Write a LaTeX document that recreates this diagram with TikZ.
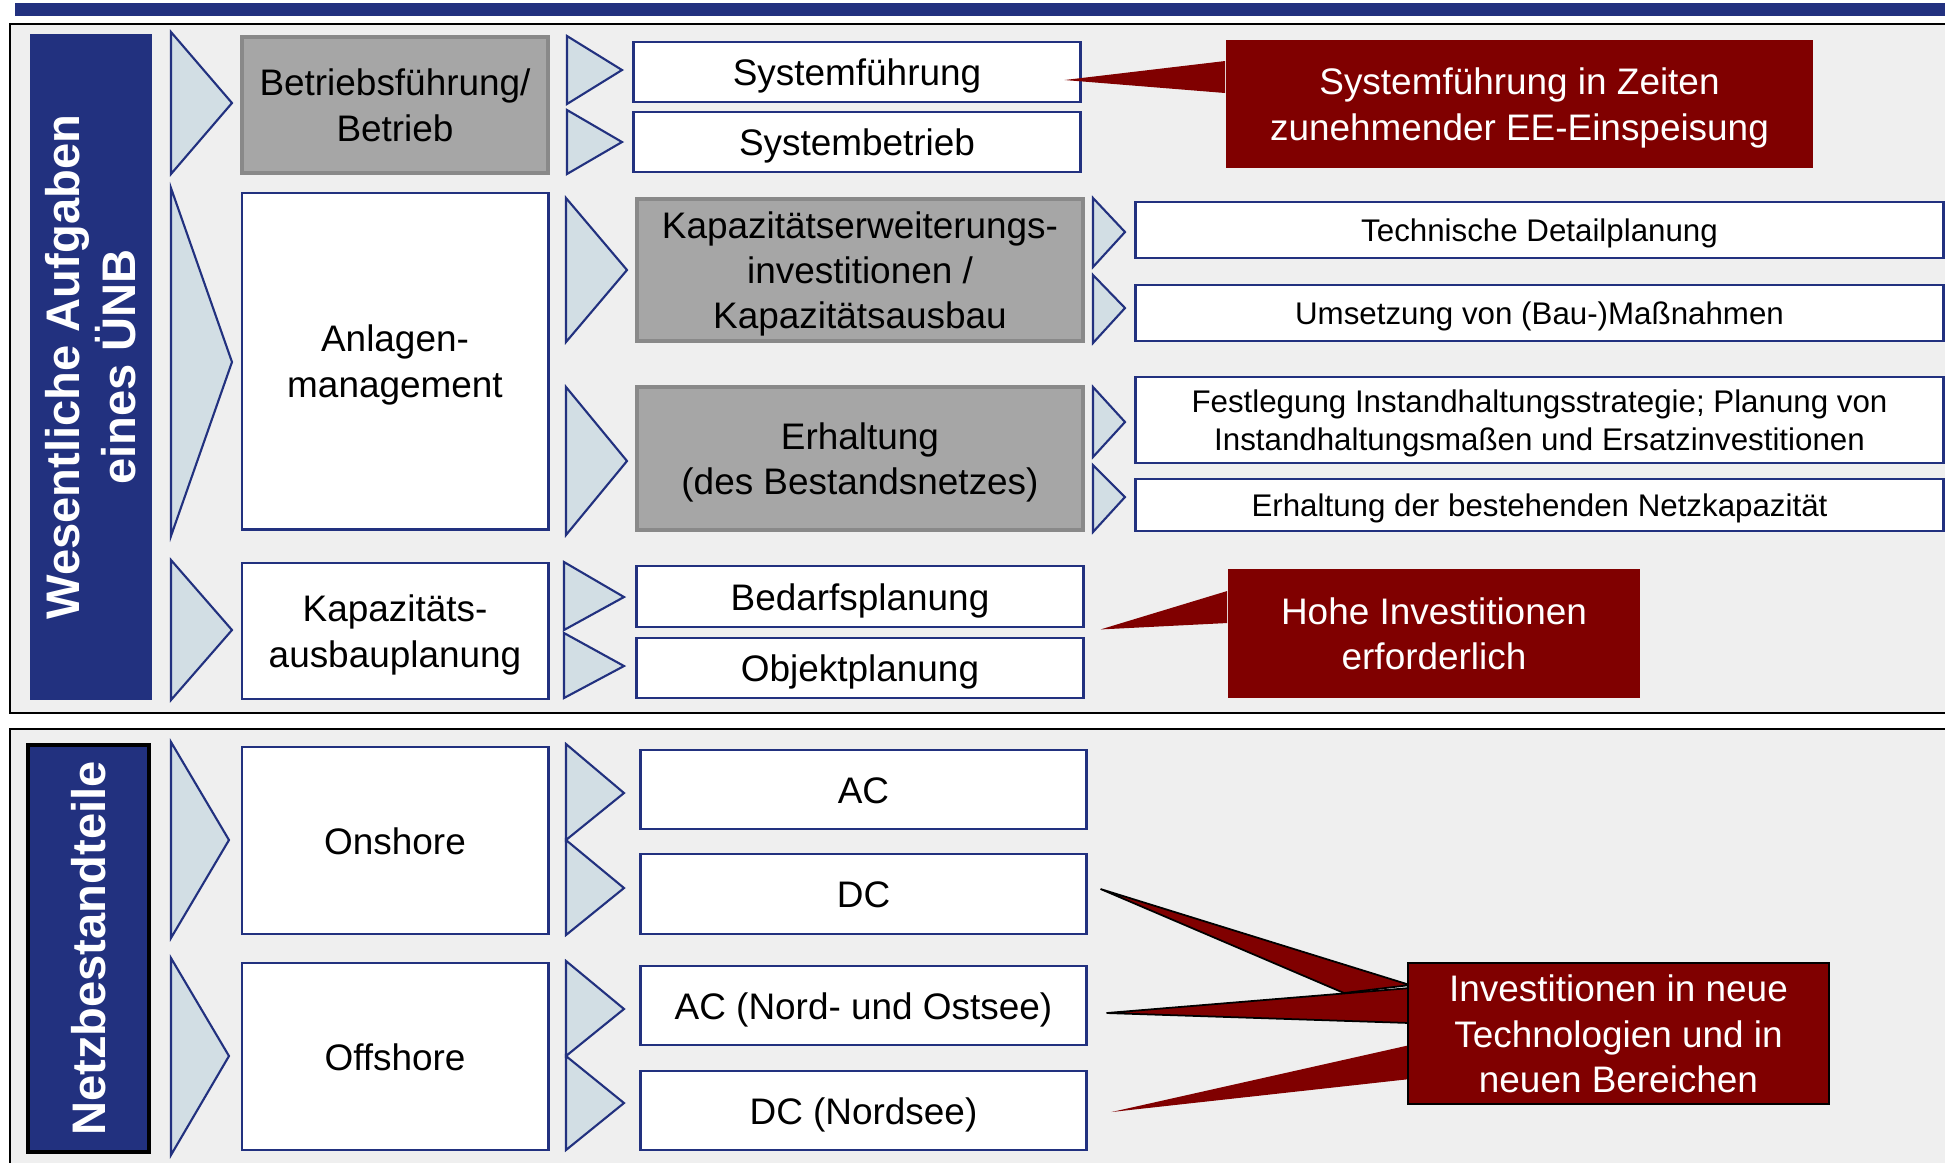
\documentclass[tikz,border=0pt]{standalone}
\usepackage{fontspec}
\setmainfont{Liberation Sans}
\usetikzlibrary{calc}
\definecolor{uebblue}{RGB}{34,49,127}
\definecolor{chevfill}{RGB}{210,222,228}
\definecolor{boxgray}{RGB}{166,166,166}
\definecolor{linegray}{RGB}{137,137,137}
\definecolor{callred}{RGB}{128,0,0}
\definecolor{framebg}{RGB}{239,239,239}
\newcommand{\tstrut}{\rule{0pt}{0.94em}}
\tikzstyle{frame} = [draw=black, fill=framebg, line width=0.6pt]
\tikzstyle{chev} = [draw=uebblue, fill=chevfill, line width=0.6pt]
\tikzstyle{lines} = [execute at begin node={\tstrut}, execute at end node={\rule[-0.21em]{0pt}{0.21em}}]
\tikzstyle{box} = [draw=uebblue, fill=white, line width=0.8pt, inner sep=0pt, align=center, lines, font=\fontsize{10.5}{12.8}\selectfont]
\tikzstyle{graybox} = [box, draw=linegray, fill=boxgray, line width=1pt]
\tikzstyle{smallbox} = [box, font=\fontsize{8.9}{10.8}\selectfont]
\tikzstyle{callout} = [fill=callred, text=white, inner sep=0pt, align=center, lines, font=\fontsize{10.5}{12.8}\selectfont]
\tikzstyle{pointer} = [fill=callred]
\tikzstyle{titlebar} = [fill=uebblue, text=white, rotate=90, inner sep=0pt, align=center, font=\bfseries\fontsize{13.4}{15.9}\selectfont]

\begin{document}
\begin{tikzpicture}[x=0.01cm, y=-0.01cm]
    \useasboundingbox (0,0) rectangle (1945,1162);
    \clip (0,0) rectangle (1945,1162);
    \fill[white] (0,0) rectangle (1945,1162);
    \fill[uebblue] (15,3) rectangle (1960,16);
    \draw[frame] (10,24) rectangle (1960,713);
    \draw[frame] (10,729) rectangle (1960,1180);

    % left labels
    \node[titlebar, minimum width=6.66cm, minimum height=1.22cm] (aufgaben) at (91,367) {Wesentliche Aufgaben\\eines ÜNB};
    \node[titlebar, draw=black, line width=1pt, minimum width=4.07cm, minimum height=1.21cm] (netz) at (88.5,948.5) {Netzbestandteile};

    % chevrons
    \draw[chev] (171,32) -- (232,103) -- (171,174) -- cycle;
    \draw[chev] (171,188) -- (232,362) -- (171,536) -- cycle;
    \draw[chev] (171,560) -- (232,630) -- (171,700) -- cycle;
    \draw[chev] (171,742) -- (229,840) -- (171,938) -- cycle;
    \draw[chev] (171,958) -- (229,1056) -- (171,1155) -- cycle;
    \draw[chev] (567,36) -- (622,70) -- (567,104) -- cycle;
    \draw[chev] (567,110) -- (622,142) -- (567,174) -- cycle;
    \draw[chev] (566,198) -- (627,270) -- (566,342) -- cycle;
    \draw[chev] (566,387) -- (627,461) -- (566,535) -- cycle;
    \draw[chev] (564,562) -- (624,597) -- (564,630) -- cycle;
    \draw[chev] (564,633) -- (624,666) -- (564,698) -- cycle;
    \draw[chev] (566,744) -- (624,793) -- (566,840) -- cycle;
    \draw[chev] (566,840) -- (624,888) -- (566,935) -- cycle;
    \draw[chev] (566,961) -- (624,1009) -- (566,1056) -- cycle;
    \draw[chev] (566,1056) -- (624,1103) -- (566,1150) -- cycle;
    \draw[chev] (1093,198) -- (1125,232) -- (1093,267) -- cycle;
    \draw[chev] (1093,275) -- (1125,308) -- (1093,343) -- cycle;
    \draw[chev] (1093,387) -- (1125,422) -- (1093,457) -- cycle;
    \draw[chev] (1093,465) -- (1125,497) -- (1093,532) -- cycle;

    % second column
    \node[graybox, minimum width=3.06cm, minimum height=1.36cm] (betrieb) at (395,105) {\tstrut Betriebsführung/\\Betrieb};
    \node[box, minimum width=3.06cm, minimum height=3.36cm] (anlagen) at (395,361) {\tstrut Anlagen-\\management};
    \node[box, minimum width=3.06cm, minimum height=1.36cm] (kapplan) at (395,631) {\tstrut Kapazitäts-\\ausbauplanung};
    \node[box, minimum width=3.06cm, minimum height=1.87cm] (onshore) at (395,840.5) {Onshore};
    \node[box, minimum width=3.06cm, minimum height=1.87cm] (offshore) at (395,1056.5) {Offshore};

    % third column
    \node[box, minimum width=4.46cm, minimum height=0.60cm] (sysf) at (857,72) {Systemführung};
    \node[box, minimum width=4.46cm, minimum height=0.60cm] (sysb) at (857,142) {Systembetrieb};
    \node[graybox, minimum width=4.46cm, minimum height=1.42cm] (kaperw) at (860,270) {\tstrut Kapazitätserweiterungs-\\investitionen /\\Kapazitätsausbau};
    \node[graybox, minimum width=4.46cm, minimum height=1.43cm] (erhalt) at (860,458.5) {\tstrut Erhaltung\\(des Bestandsnetzes)};
    \node[box, minimum width=4.46cm, minimum height=0.61cm] (bedarf) at (860,596.5) {Bedarfsplanung};
    \node[box, minimum width=4.46cm, minimum height=0.60cm] (objekt) at (860,668) {Objektplanung};
    \node[box, minimum width=4.45cm, minimum height=0.79cm] (ac) at (863.5,789.5) {AC};
    \node[box, minimum width=4.45cm, minimum height=0.80cm] (dc) at (863.5,894) {DC};
    \node[box, minimum width=4.45cm, minimum height=0.79cm] (acnord) at (863.5,1005.5) {AC (Nord- und Ostsee)};
    \node[box, minimum width=4.45cm, minimum height=0.79cm] (dcnord) at (863.5,1110.5) {DC (Nordsee)};

    % fourth column
    \node[smallbox, minimum width=8.07cm, minimum height=0.56cm] (techn) at (1539.5,230) {Technische Detailplanung};
    \node[smallbox, minimum width=8.07cm, minimum height=0.56cm] (umsetz) at (1539.5,313) {Umsetzung von (Bau-)Maßnahmen};
    \node[smallbox, minimum width=8.07cm, minimum height=0.86cm] (festl) at (1539.5,420) {\tstrut Festlegung Instandhaltungsstrategie; Planung von\\Instandhaltungsmaßen und Ersatzinvestitionen};
    \node[smallbox, minimum width=8.07cm, minimum height=0.52cm] (erhder) at (1539.5,505) {Erhaltung der bestehenden Netzkapazität};

    % callouts
    \node[callout, minimum width=5.87cm, minimum height=1.28cm] (cf1) at (1519.5,104) {\tstrut Systemführung in Zeiten\\zunehmender EE-Einspeisung};
    \node[callout, minimum width=4.12cm, minimum height=1.29cm] (cf2) at (1434,633.5) {\tstrut Hohe Investitionen\\erforderlich};
    \coordinate (tip1) at ($(sysf.east)+(-17,8)$);
    \coordinate (tip2) at ($(bedarf.south east)+(16,1)$);
    \coordinate (tip3) at ($(dc.east)+(13,-5)$);
    \coordinate (tip4) at ($(acnord.east)+(19,7.5)$);
    \coordinate (tip5) at ($(dcnord.east)+(24,1.5)$);
    \fill[pointer] (tip1) -- ($(cf1.west)+(0,-43)$) -- ($(cf1.west)+(0,-11)$) -- cycle;
    \fill[pointer] (tip2) -- ($(cf2.west)+(0,-42.5)$) -- ($(cf2.west)+(0,-10.5)$) -- cycle;
    \filldraw[pointer, draw=black, line width=0.5pt] (tip3) -- (1410,985) -- (1344,993) -- cycle;
    \filldraw[pointer, draw=black, line width=0.5pt] (tip4) -- (1410,988) -- (1410,1023) -- cycle;
    \fill[pointer] (tip5) -- (1410,1045) -- (1410,1079) -- cycle;
    \node[callout, draw=black, line width=0.6pt, minimum width=4.21cm, minimum height=1.41cm] (cf3) at (1618.5,1033.5) {\tstrut Investitionen in neue\\Technologien und in\\neuen Bereichen};
\end{tikzpicture}
\end{document}
